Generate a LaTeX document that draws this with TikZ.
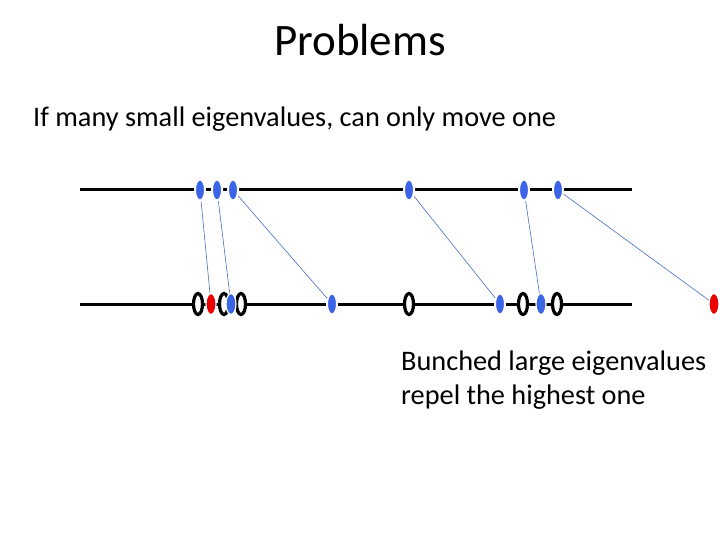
\documentclass[tikz,border=0pt]{standalone}
\usepackage{fontspec}
\setmainfont{Carlito}
\usetikzlibrary{shapes.geometric}
\definecolor{dotblue}{RGB}{60,100,230}
\definecolor{dotred}{RGB}{235,0,0}
\definecolor{linkblue}{RGB}{70,110,190}
\tikzset{
  axis/.style={line width=3pt, black},
  bdot/.style={ellipse, fill=dotblue, draw=white, line width=2pt, minimum width=10pt, minimum height=21pt, inner sep=0pt},
  rdot/.style={ellipse, fill=dotred, draw=white, line width=1.2pt, minimum width=10pt, minimum height=21pt, inner sep=0pt},
  ring/.style={ellipse, fill=white, draw=black, line width=3.2pt, minimum width=9pt, minimum height=21pt, inner sep=0pt},
  link/.style={linkblue, line width=0.6pt},
  txt/.style={anchor=west, inner sep=0pt, font=\fontsize{28.3}{34}\selectfont}
}
\begin{document}
\begin{tikzpicture}[x=1pt,y=-1pt]
\useasboundingbox (0,0) rectangle (720,540);
\node[inner sep=0pt, font=\fontsize{45}{54}\selectfont] (title) at (360,40) {Problems};
\node[txt] (t1) at (33,119) {If many small eigenvalues, can only move one};
\node[txt] (t2) at (401,363) {Bunched large eigenvalues};
\node[txt] (t3) at (401,397) {repel the highest one};
\coordinate (ta) at (80,190);
\coordinate (tb) at (632,190);
\coordinate (ba) at (80,304);
\coordinate (bb) at (632,304);
\draw[axis] (ta) -- (tb);
\draw[axis] (ba) -- (bb);
% bottom rings
\foreach \x/\n in {198/r1,224/r2,241/r3,409/r4,523/r5,557/r6}
  \node[ring] (\n) at (\x,304) {};
% top dots
\node[bdot] (u1) at (200,190) {};
\node[bdot] (u2) at (217,190) {};
\node[bdot] (u3) at (233,190) {};
\node[bdot] (u4) at (409,190) {};
\node[bdot] (u5) at (524,190) {};
\node[bdot] (u6) at (558,190) {};
% bottom dots
\node[rdot] (d1) at (211,304) {};
\node[bdot, line width=1.2pt] (d2) at (231,304) {};
\node[bdot] (d3) at (332,304) {};
\node[bdot] (d4) at (500,304) {};
\node[bdot, line width=1.2pt] (d5) at (541,304) {};
\node[rdot] (d6) at (714,304) {};
% links
\draw[link] (u1) -- (d1);
\draw[link] (u2) -- (d2);
\draw[link] (u3) -- (d3);
\draw[link] (u4) -- (d4);
\draw[link] (u5) -- (d5);
\draw[link] (u6) -- (d6);
\end{tikzpicture}
\end{document}
